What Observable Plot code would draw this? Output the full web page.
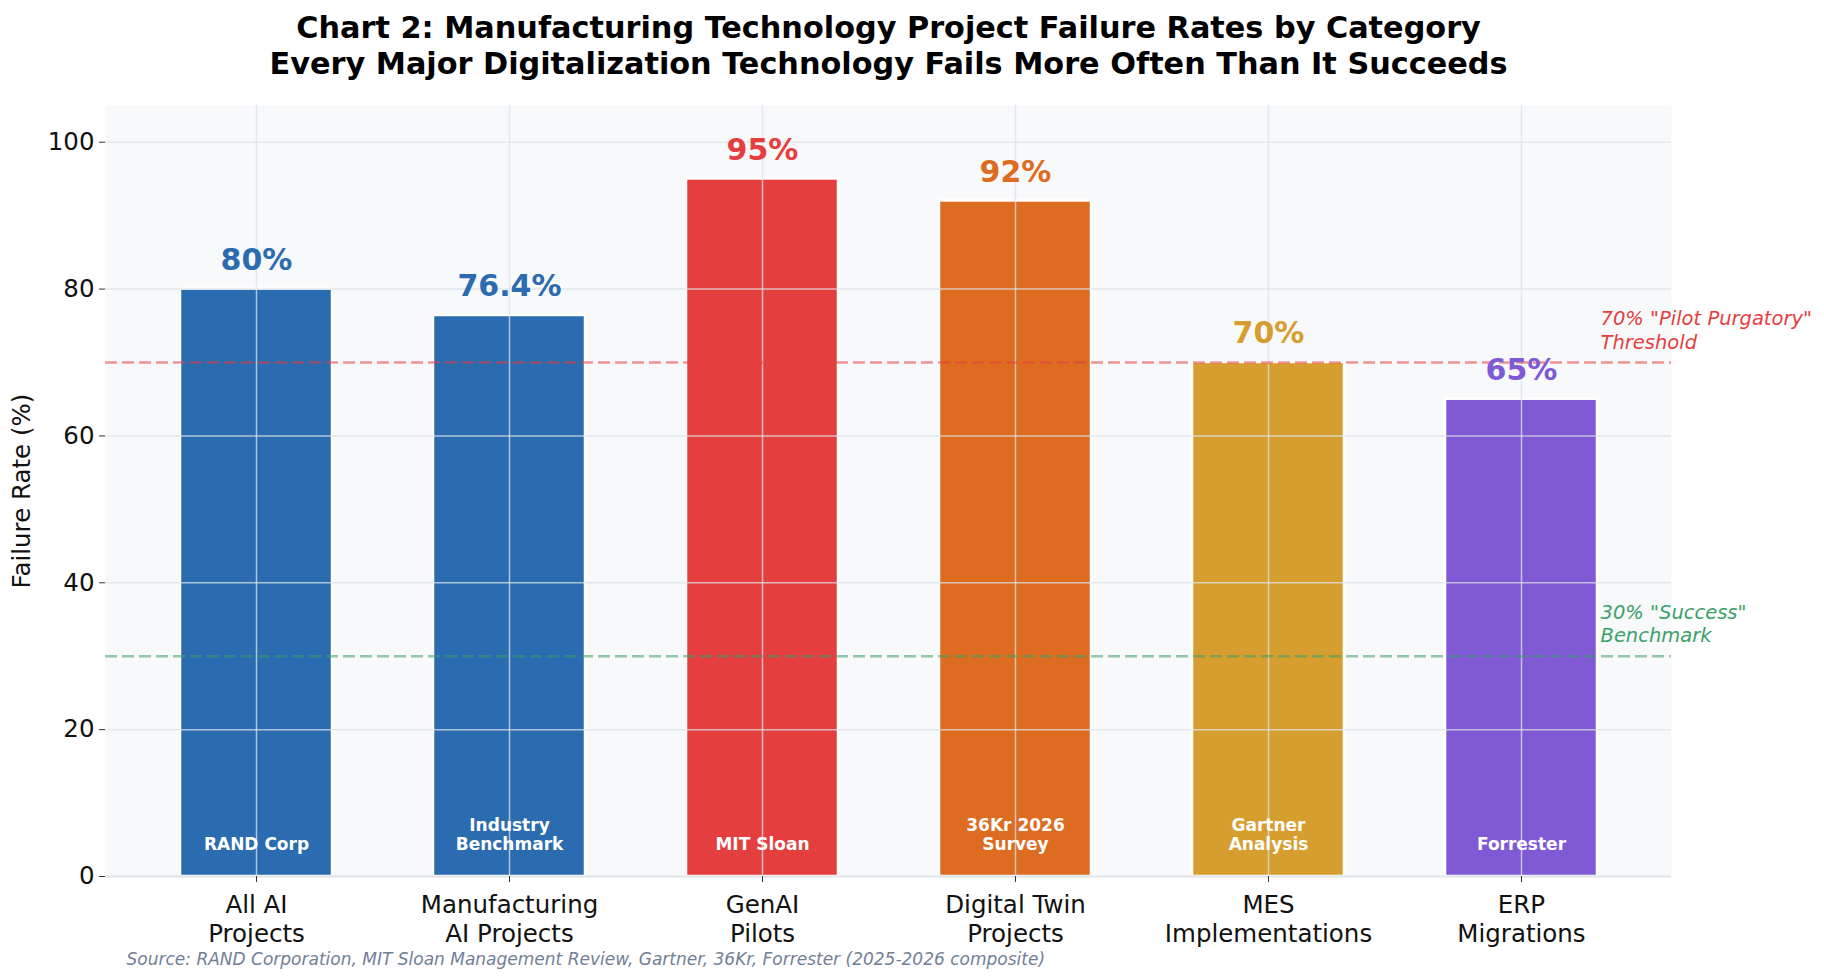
<!DOCTYPE html>
<html>
<head>
<meta charset="utf-8">
<script src="https://cdn.jsdelivr.net/npm/d3@7"></script>
<script src="https://cdn.jsdelivr.net/npm/@observablehq/plot@0.6"></script>
<style>
  html, body { margin: 0; padding: 0; background: #ffffff; }
  #chart svg { display: block; }
</style>
</head>
<body>
<div id="chart"></div>
<script>
const categories = ["All AI\nProjects", "Manufacturing\nAI Projects", "GenAI\nPilots", "Digital Twin\nProjects", "MES\nImplementations", "ERP\nMigrations"];
const values = [80, 76.4, 95, 92, 70, 65];
const valueLabels = ["80%", "76.4%", "95%", "92%", "70%", "65%"];
const sources = ["RAND Corp", "Industry\nBenchmark", "MIT Sloan", "36Kr 2026\nSurvey", "Gartner\nAnalysis", "Forrester"];
const colors = ["#2b6cb0", "#2b6cb0", "#e53e3e", "#dd6b20", "#d69e2e", "#805ad5"];
const yTicks = [0, 20, 40, 60, 80, 100];
const refLines = [70, 30];
const refLabels = ["70% \"Pilot Purgatory\"\nThreshold", "30% \"Success\"\nBenchmark"];
const refColors = ["#e53e3e", "#38a169"];
const titleLines = ["Chart 2: Manufacturing Technology Project Failure Rates by Category", "Every Major Digitalization Technology Fails More Often Than It Succeeds"];
const yLabel = "Failure Rate (%)";
const sourceText = "Source: RAND Corporation, MIT Sloan Management Review, Gartner, 36Kr, Forrester (2025-2026 composite)";

const data = categories.map((c, i) => ({cat: c, value: values[i], label: valueLabels[i], source: sources[i], color: colors[i]}));
const refs = refLines.map((v, i) => ({v, label: refLabels[i], color: refColors[i]}));

const chart = Plot.plot({
  width: 1824,
  height: 978,
  marginTop: 105,
  marginLeft: 105,
  marginRight: 153,
  marginBottom: 102,
  style: {fontFamily: "DejaVu Sans", background: "#ffffff", overflow: "visible"},
  x: {domain: categories, paddingInner: 0.4, paddingOuter: 0.283, label: null},
  y: {domain: [0, 105], label: null, ticks: yTicks},
  marks: [
    Plot.frame({fill: "#f8f9fb", stroke: null}),
    Plot.barY(data, {x: "cat", y: "value", fill: "color", stroke: "#ffffff", strokeWidth: 2.5}),
    Plot.gridY(yTicks, {stroke: "#dde1e8", strokeOpacity: 0.75, strokeWidth: 1.5}),
    Plot.gridX(categories, {stroke: "#dde1e8", strokeOpacity: 0.75, strokeWidth: 1.5}),
    Plot.ruleY(refs, {y: "v", stroke: "color", strokeOpacity: 0.55, strokeWidth: 2.5, strokeDasharray: "12,5"}),
    Plot.text(refs, {y: "v", text: "label", fill: "color", frameAnchor: "right", textAnchor: "start", lineAnchor: "bottom", dx: -71, dy: -14, fontSize: 19.5, fontStyle: "italic", lineHeight: 1.2}),
    Plot.text(data, {x: "cat", y: "value", text: "label", fill: "color", fontSize: 30, fontWeight: "bold", dy: -29, lineAnchor: "middle"}),
    Plot.text(data, {x: "cat", y: () => 3, text: "source", fill: "#ffffff", fontSize: 17, fontWeight: "bold", lineAnchor: "bottom", dy: -4, lineHeight: 1.15}),
    Plot.ruleX([0], {frameAnchor: "left", stroke: "#e2e5ea", strokeWidth: 2}),
    Plot.ruleY([0], {stroke: "#e2e5ea", strokeWidth: 2}),
    Plot.axisY({ticks: yTicks, tickSize: 6, tickPadding: 5, fontSize: 24.5, stroke: "#333", color: "#111", label: null}),
    Plot.axisX({tickSize: 6, tickPadding: 10, fontSize: 24.5, stroke: "#333", color: "#111", label: null, lineHeight: 1.17}),
    Plot.text([yLabel], {y: () => 52.5, frameAnchor: "left", textAnchor: "middle", dx: -83, rotate: -90, fontSize: 24.5, fill: "#111", lineAnchor: "middle"}),
    Plot.text([titleLines[0]], {frameAnchor: "top", dy: -89, fontSize: 30.3, fontWeight: "bold", fill: "#000"}),
    Plot.text([titleLines[1]], {frameAnchor: "top", dy: -53, fontSize: 30.3, fontWeight: "bold", fill: "#000"}),
    Plot.text([sourceText], {frameAnchor: "bottom-left", textAnchor: "start", dx: 21, dy: 88, fontSize: 17, fontStyle: "italic", fill: "#718096"})
  ]
});
document.getElementById("chart").appendChild(chart);
</script>
</body>
</html>
